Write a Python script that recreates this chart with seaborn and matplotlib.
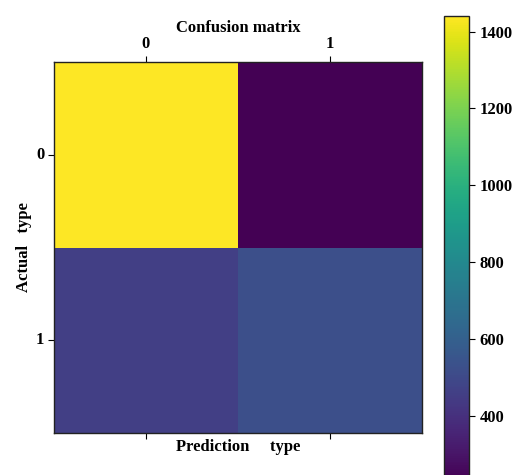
import numpy as np
import matplotlib
matplotlib.use('Agg')
import matplotlib.pyplot as plt
import seaborn as sns

# 混淆矩阵数据
classes = ['0', '1']
row0 = [1440, 235]
row1 = [460, 525]
cm = np.array([row0, row1])

plt.rcParams['font.family'] = ['Liberation Serif', 'DejaVu Serif']
plt.rcParams['font.weight'] = 'bold'
plt.rcParams['font.size'] = 12

fig = plt.figure(figsize=(5.13, 4.75), dpi=100)
ax = fig.add_axes([54/513, 1-433/475, 368/513, 371/475])
# 颜色条超出画布底部, 与原图一致
cax = fig.add_axes([444/513, -0.01, 25/513, 0.976])

sns.heatmap(cm, cmap='viridis', ax=ax, cbar_ax=cax, cbar=True,
            xticklabels=classes, yticklabels=classes)

# 类似 matshow 的坐标轴样式
for s in ax.spines.values():
    s.set_visible(True)
    s.set_linewidth(1.0)
    s.set_color('#222222')
ax.tick_params(top=True, labeltop=True, bottom=True, labelbottom=False,
               left=True, direction='out', length=4, pad=3)
ax.set_yticklabels(classes, rotation=0, fontweight='bold')
ax.set_xticklabels(classes, rotation=0, fontweight='bold')
ax.xaxis.set_label_position('bottom')
ax.set_xlabel('Prediction     type', fontweight='bold', labelpad=0)
ax.set_ylabel('Actual   type', fontweight='bold', labelpad=3)
ax.set_title('Confusion matrix', fontweight='bold', fontsize=12, pad=2)

cb = ax.collections[0].colorbar
cb.outline.set_visible(True)
cb.outline.set_linewidth(1.0)
cb.outline.set_edgecolor('#222222')
cb.set_ticks([400, 600, 800, 1000, 1200, 1400])
cax.tick_params(direction='out', length=4, labelsize=12)
for t in cax.get_yticklabels():
    t.set_fontweight('bold')

fig.savefig('out.png', dpi=100)
